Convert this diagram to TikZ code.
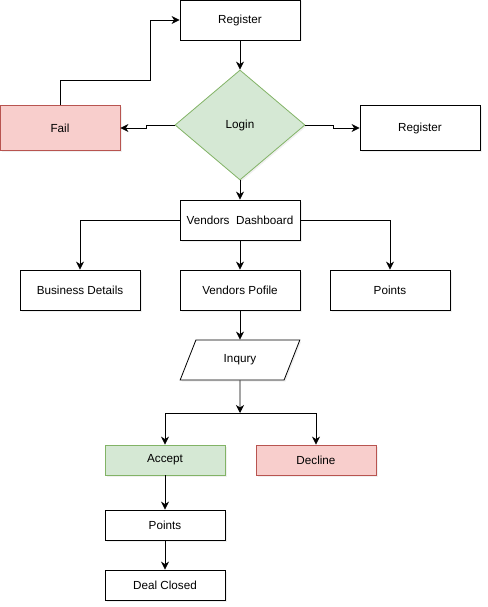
\documentclass[tikz,border=0pt]{standalone}
\usepackage{fontspec}
\setmainfont{Liberation Sans}
\usetikzlibrary{arrows.meta,shapes.geometric,shadows}
\definecolor{okfill}{HTML}{D5E8D4}
\definecolor{okdraw}{HTML}{82B366}
\definecolor{badfill}{HTML}{F8CECC}
\definecolor{baddraw}{HTML}{B85450}
\tikzset{
    box/.style =    {rectangle,
                    fill=white,
                    draw=black,
                    text=black,
                    thick,
                    drop shadow={opacity=0.12,shadow xshift=1.5pt,shadow yshift=-1.5pt},
                    minimum width=120pt,
                    minimum height=40pt,
                    font=\fontsize{11.7}{13}\selectfont},
    okbox/.style =  {box,
                    fill=okfill,
                    draw=okdraw},
    badbox/.style = {box,
                    fill=badfill,
                    draw=baddraw},
    choice/.style = {diamond,
                    fill=okfill,
                    draw=okdraw,
                    thick,
                    inner sep=0pt,
                    minimum width=130pt,
                    minimum height=110pt,
                    drop shadow={opacity=0.12,shadow xshift=1.5pt,shadow yshift=-1.5pt},
                    font=\fontsize{11.7}{13}\selectfont},
    inbox/.style =  {trapezium,
                    trapezium left angle=61,
                    trapezium right angle=119,
                    trapezium stretches=true,
                    fill=white,
                    draw=black,
                    thick,
                    inner sep=0pt,
                    minimum width=120pt,
                    minimum height=40pt,
                    drop shadow={opacity=0.12,shadow xshift=1.5pt,shadow yshift=-1.5pt},
                    font=\fontsize{11.7}{13}\selectfont},
    link/.style =   {thick,->},
    >={Stealth[length=8pt,width=8pt,inset=2.5pt]},
    x=1pt, y=1pt}

\begin{document}
\begin{tikzpicture}
        \useasboundingbox (0,0) rectangle (487,-607);
                \node[box]          (reg)  at (240,-20)     {Register};
                \node[choice]       (login) [below of=reg, node distance=105pt]   {Login};
                \node[badbox, minimum height=45pt] (fail) at (60,-128)  {Fail};
                \node[box, minimum height=45pt]    (reg2) at (420,-128) {Register};
                \node[box]          (dash) [below of=login, node distance=95pt]  {Vendors~~Dashboard};
                \node[box]          (prof) [below of=dash, node distance=70pt]  {Vendors Pofile};
                \node[box]          (biz)  at (80,-290)     {Business Details};
                \node[box]          (pts)  at (390,-290)    {Points};
                \node[inbox]        (inq)  [below of=prof, node distance=70pt]  {Inqury};
                \node[okbox, minimum height=30pt]  (acc)  at (165,-460) {Accept};
                \node[badbox, minimum height=30pt] (dec)  at (316,-460) {Decline};
                \node[box, minimum height=30pt]    (pts2) [below of=acc, node distance=65pt] {Points};
                \node[box, minimum height=30pt]    (deal) [below of=pts2, node distance=60pt] {Deal Closed};
                \coordinate (bend)  at (150,-80);
                \coordinate (split) at (240,-413);
                % login part
                \draw [link] (reg) -- (login);
                \draw [link] (fail.north) |- (bend) |- (reg.west);
                \draw [link] (login.west) -- ++(-28,0) |- (fail.east);
                \draw [link] (login.east) -- ++(28,0) |- (reg2.west);
                \draw [link] (login) -- (dash);
                % dashboard part
                \draw [link] (dash.west) -| (biz.north);
                \draw [link] (dash.east) -| (pts.north);
                \draw [link] (dash) -- (prof);
                \draw [link] (prof) -- (inq);
                % inquiry part
                \draw [link] (inq.south) -- (split);
                \draw [link] (split) -| (acc.north);
                \draw [link] (split) -| (dec.north);
                \draw [link] (acc) -- (pts2);
                \draw [link] (pts2) -- (deal);
        \end{tikzpicture}
\end{document}
